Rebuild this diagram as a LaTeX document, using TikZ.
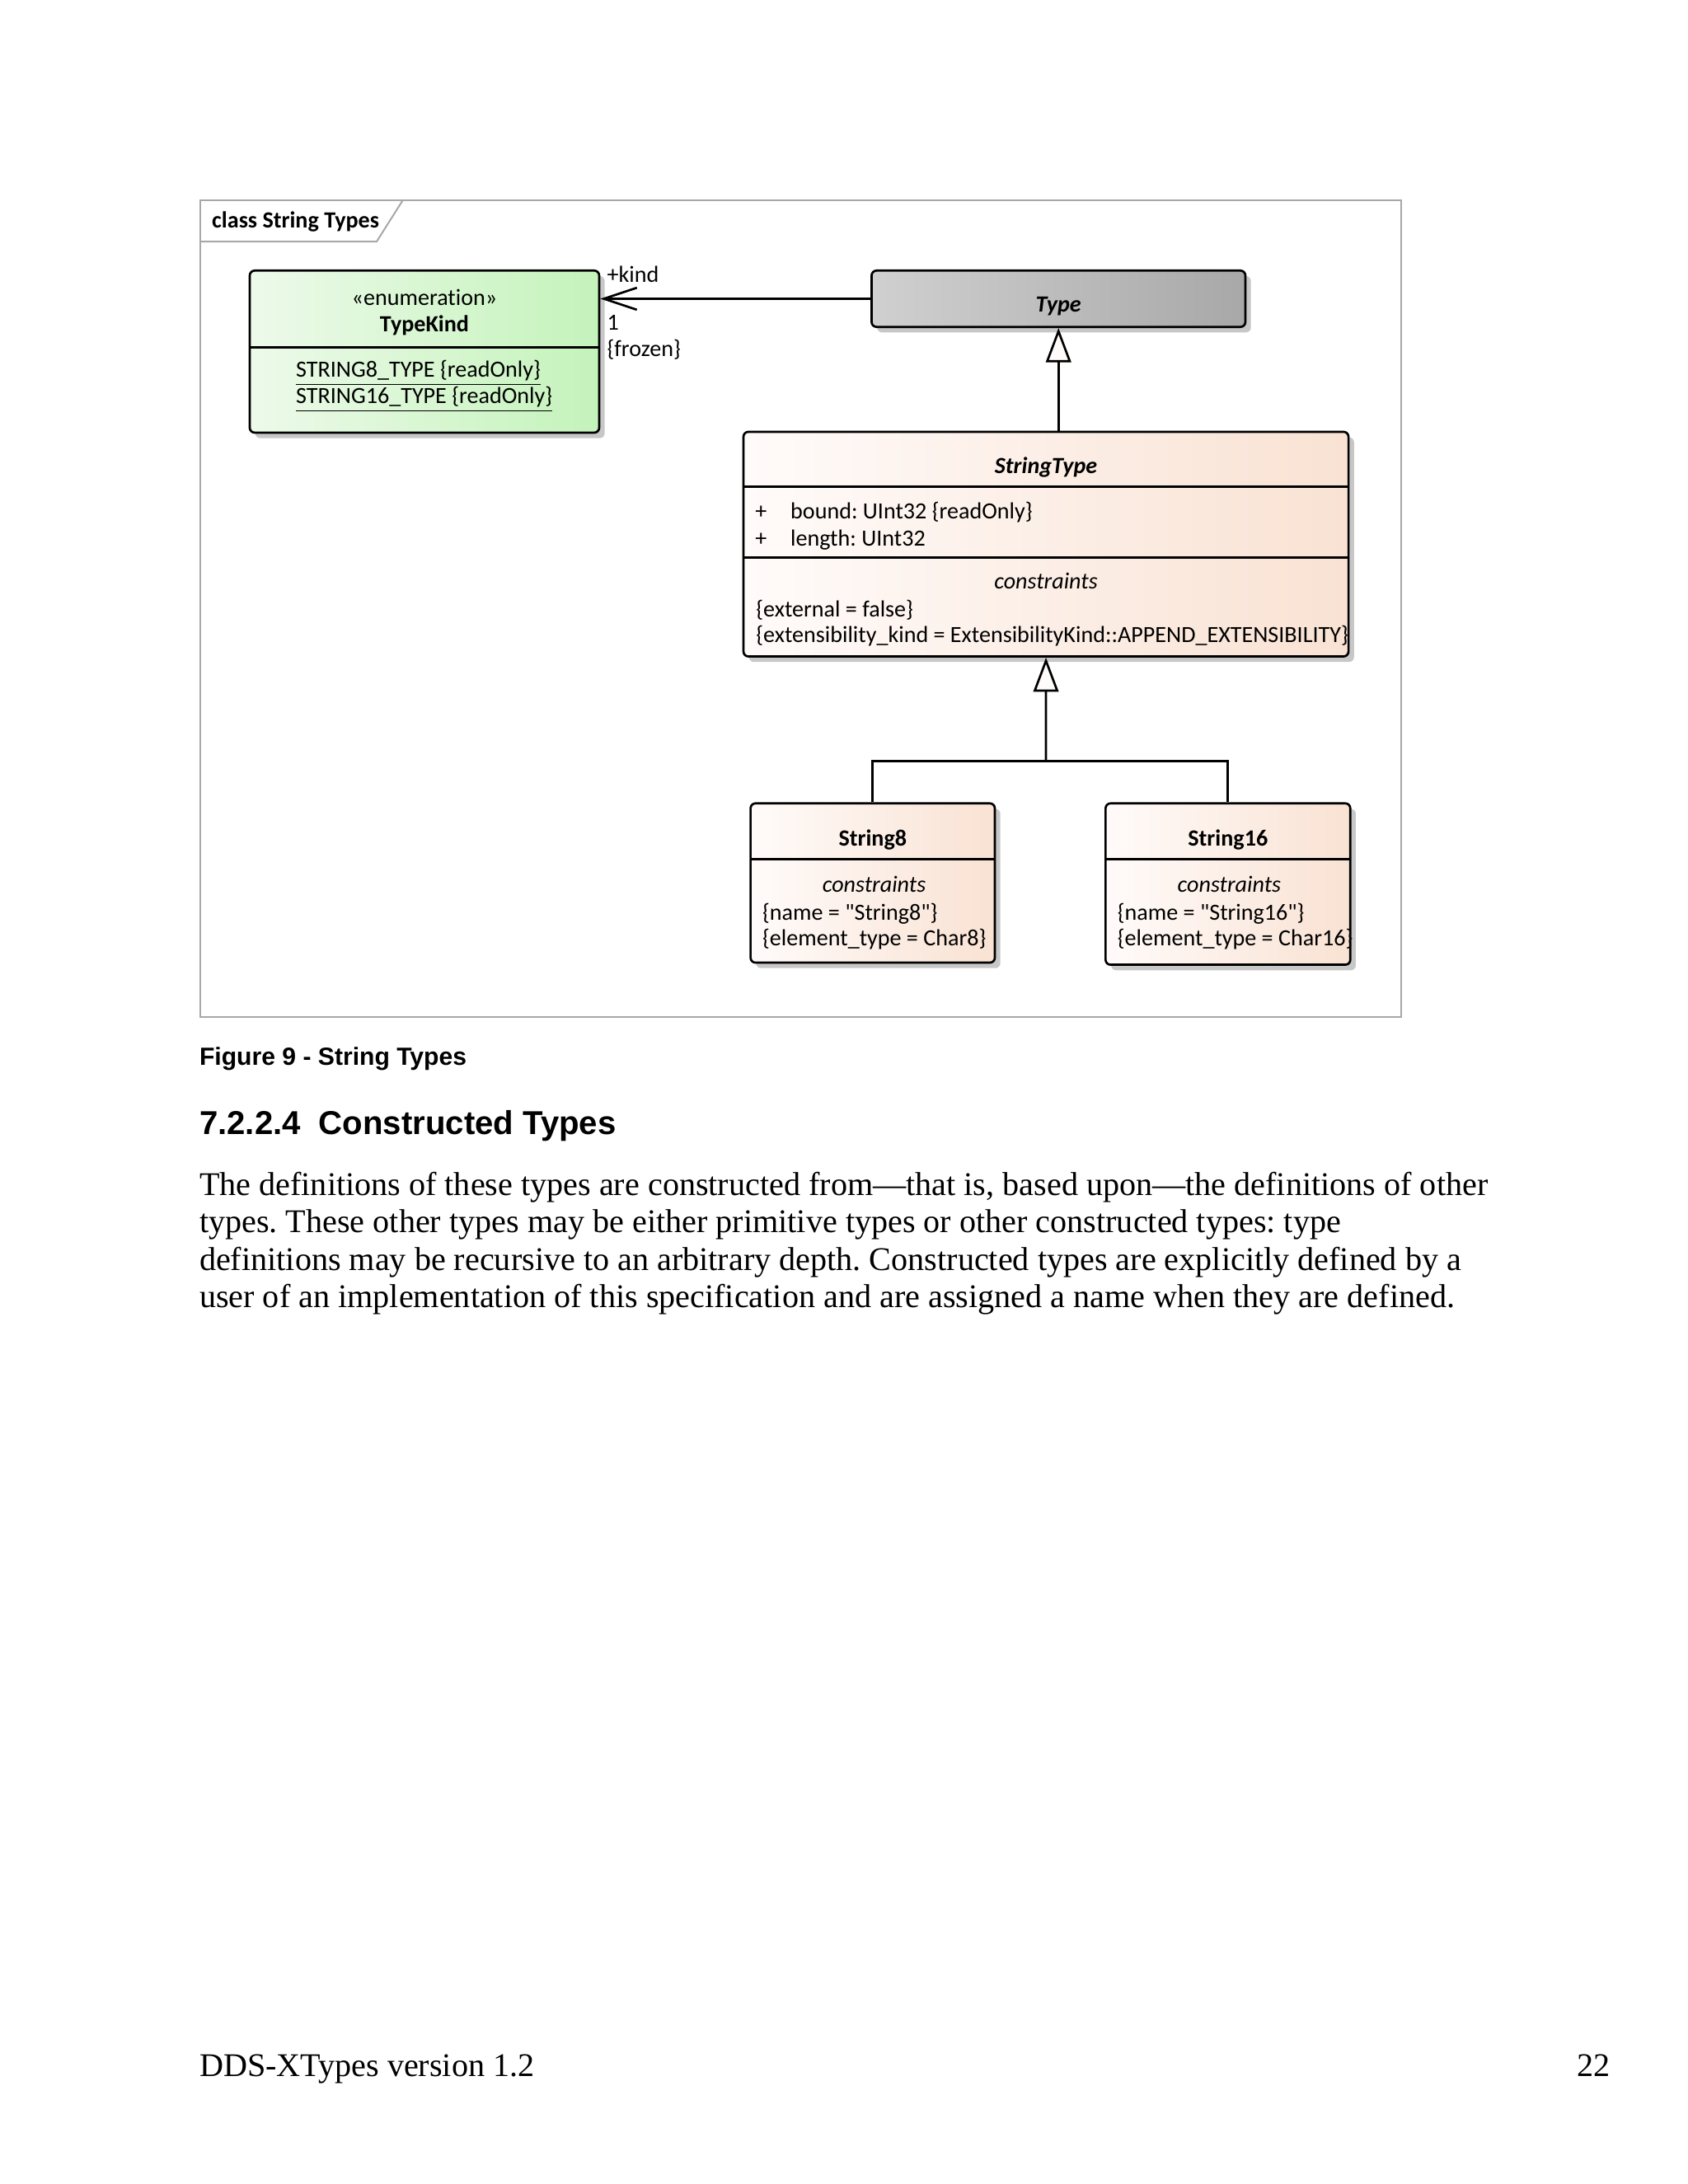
\documentclass[tikz,border=0pt]{standalone}
\usepackage{fontspec}
\setmainfont{Liberation Serif}
\newfontfamily\diag[Ligatures={NoCommon}]{Carlito}
\newfontfamily\arial{Liberation Sans}
\usetikzlibrary{fit,shadows,arrows.meta}
\definecolor{framegray}{HTML}{A8A8A8}
\definecolor{greenL}{HTML}{EDFAEA}
\definecolor{greenR}{HTML}{C4F3BB}
\definecolor{grayL}{HTML}{D0D0D0}
\definecolor{grayR}{HTML}{A8A8A8}
\definecolor{peachL}{HTML}{FFFBFA}
\definecolor{peachR}{HTML}{F9E2D3}
\frenchspacing
\begin{document}
\begin{tikzpicture}[x=0.50446pt,y=-0.50446pt,
  umlbox/.style={draw=black, line width=0.8pt, rounded corners=1.8pt, inner sep=0pt,
    drop shadow={shadow xshift=2pt, shadow yshift=-2pt, fill=black, opacity=0.22}},
  greenbox/.style={umlbox, left color=greenL, right color=greenR},
  graybox/.style={umlbox, left color=grayL, right color=grayR},
  peachbox/.style={umlbox, left color=peachL, right color=peachR},
  dt/.style={font=\diag\fontsize{8.4}{9.8}\selectfont, inner sep=0pt},
  dtb/.style={font=\diag\bfseries\fontsize{8.4}{9.8}\selectfont, inner sep=0pt},
  dtbi/.style={font=\diag\bfseries\itshape\fontsize{8.4}{9.8}\selectfont, inner sep=0pt},
  dti/.style={font=\diag\itshape\fontsize{8.4}{9.8}\selectfont, inner sep=0pt},
  body/.style={font=\fontsize{12}{13.8}\selectfont, inner sep=0pt},
  conn/.style={line width=0.8pt, draw=black},
  gen/.style={conn, -{Triangle[open, length=12.4pt, width=9.1pt, fill=peachL, line width=0.8pt]}},
  assoc/.style={conn, -{Straight Barb[length=12pt, width=8pt, line width=0.8pt]}},
  divider/.style={line width=0.8pt, draw=black}
]
\useasboundingbox (0,0) rectangle (1213,1570);
\fill[white] (0,0) rectangle (1213,1570);

% diagram frame
\draw[framegray, line width=0.6pt] (144,144) rectangle (1007,731);
\draw[framegray, line width=0.6pt] (144,173.7) -- (270.7,173.7) -- (289.5,144);
\node[dtb, anchor=mid west] (frametitle) at (152,159.5) {class String Types};

% TypeKind
\node[greenbox, fit={(179.5,194.5) (430.7,311)}] (tk) {};
\draw[divider] (179.5,249.8) -- (430.7,249.8);
\node[dt, anchor=mid] (tkster) at (305.1,215) {«enumeration»};
\node[dtb, anchor=mid] (tkname) at (305.1,234) {TypeKind};
\node[dt, anchor=mid west] (lit1) at (212.4,266.5) {\underline{STRING8\_TYPE {\{}readOnly{\}}}};
\node[dt, anchor=mid west] (lit2) at (212.4,285.4) {\underline{STRING16\_TYPE {\{}readOnly{\}}}};

% Type
\node[graybox, fit={(626.5,194.5) (895.2,235)}] (type) {};
\node[dtbi, anchor=mid] (typename) at (760.85,219.5) {Type};

% StringType
\node[peachbox, fit={(534.4,310.4) (969.3,471.9)}] (st) {};
\draw[divider] (534.4,349.8) -- (969.3,349.8);
\draw[divider] (534.4,400.8) -- (969.3,400.8);
\node[dtbi, anchor=mid] (stname) at (751.85,336) {StringType};
\node[dt, anchor=mid west] (p1) at (542.5,368.5) {+};
\node[dt, anchor=mid west] (a1) at (567.9,368.5) {bound: UInt32 \{readOnly\}};
\node[dt, anchor=mid west] (p2) at (542.5,388) {+};
\node[dt, anchor=mid west] (a2) at (567.9,388) {length: UInt32};
\node[dti, anchor=mid] (stc) at (751.85,419) {constraints};
\node[dt, anchor=mid west] (stc1) at (543.1,438.7) {\{external = false\}};
\node[dt, anchor=mid west] (stc2) at (543.1,457.5) {\{extensibility\_kind = ExtensibilityKind::APPEND\_EXTENSIBILITY\}};

% String8
\node[peachbox, fit={(539.5,577.5) (715.1,692)}] (s8) {};
\draw[divider] (539.5,617.6) -- (715.1,617.6);
\node[dtb, anchor=mid] (s8name) at (627.3,603.5) {String8};
\node[dti, anchor=mid] (s8c) at (628.3,637) {constraints};
\node[dt, anchor=mid west] (s8c1) at (547.7,656.8) {\{name = "String8"\}};
\node[dt, anchor=mid west] (s8c2) at (547.7,675.5) {\{element\_type = Char8\}};

% String16
\node[peachbox, fit={(794.7,577.5) (970.6,693.5)}] (s16) {};
\draw[divider] (794.7,617.6) -- (970.6,617.6);
\node[dtb, anchor=mid] (s16name) at (882.65,603.5) {String16};
\node[dti, anchor=mid] (s16c) at (883.6,637) {constraints};
\node[dt, anchor=mid west] (s16c1) at (802.9,656.8) {\{name = "String16"\}};
\node[dt, anchor=mid west] (s16c2) at (802.9,675.5) {\{element\_type = Char16\}};

% connectors
\draw[assoc] (type.west) -- (type.west -| tk.east);
\node[dt, anchor=mid west] (lkind) at (436,198.5) {+kind};
\node[dt, anchor=mid west] (lone) at (436,232.5) {1};
\node[dt, anchor=mid west] (lfrozen) at (436,251.5) {\{frozen\}};

\draw[gen] (type.south |- st.north) -- (type.south);
\coordinate (j) at (751.85,547);
\draw[conn] (s8.north) |- (j);
\draw[conn] (s16.north) |- (j);
\draw[gen] (j) -- (st.south);

% text below
\node[font=\arial\bfseries\fontsize{9}{11}\selectfont, inner sep=0pt, anchor=base west] (caption) at (143,765.5) {Figure 9 - String Types};
\node[font=\arial\bfseries\fontsize{12}{14}\selectfont, inner sep=0pt, anchor=base west] (heading) at (143,815.5) {7.2.2.4\hspace{0.55em}Constructed Types};
\node[body, anchor=mid west] (l1) at (143,854.5) {The definitions of these types are constructed from—that is, based upon—the definitions of other};
\node[body, anchor=mid west] (l2) at (143,881.5) {types. These other types may be either primitive types or other constructed types: type};
\node[body, anchor=mid west] (l3) at (143,908.5) {definitions may be recursive to an arbitrary depth. Constructed types are explicitly defined by a};
\node[body, anchor=mid west] (l4) at (143,935.5) {user of an implementation of this specification and are assigned a name when they are defined.};
\node[body, anchor=mid west] (foot1) at (143,1488) {DDS-XTypes version 1.2};
\node[body, anchor=mid east] (foot2) at (1158,1488) {22};
\end{tikzpicture}
\end{document}
